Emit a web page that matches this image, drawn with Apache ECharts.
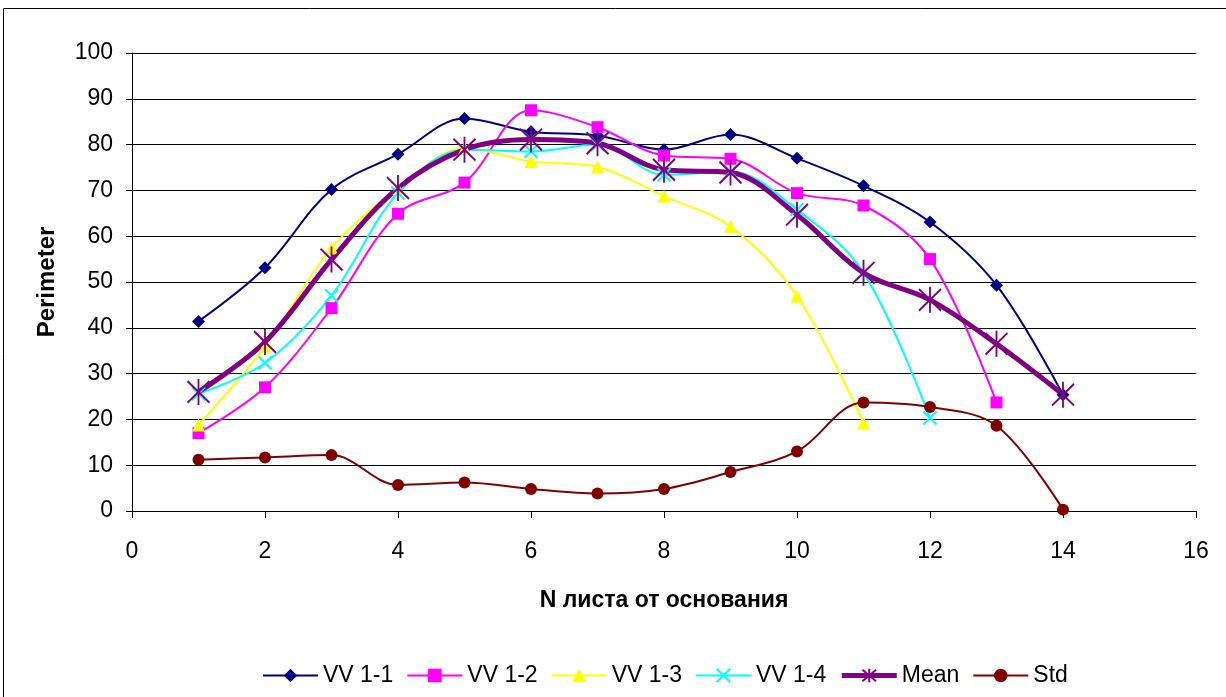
<!DOCTYPE html>
<html>
<head>
<meta charset="utf-8">
<script src="https://cdn.jsdelivr.net/npm/echarts@6/dist/echarts.min.js"></script>
<style>
  html, body { margin: 0; padding: 0; background: #fff; }
  #chart { width: 1226px; height: 697px; }
</style>
</head>
<body>
<div id="chart"></div>
<script>
// Leaf number from the base
const leafN = [1, 2, 3, 4, 5, 6, 7, 8, 9, 10, 11, 12, 13, 14];

// Perimeter per leaf for each plant (null where the plant has no such leaf)
const vv11 = [41.4, 53.1, 70.2, 77.9, 85.7, 82.8, 82.0, 78.9, 82.2, 77.0, 71.0, 63.1, 49.3, 25.4];
const vv12 = [17.0, 27.0, 44.3, 64.9, 71.7, 87.5, 83.8, 77.6, 76.9, 69.4, 66.7, 55.0, 23.7, null];
const vv13 = [18.8, 35.9, 57.4, 70.4, 79.2, 76.3, 75.1, 68.7, 62.1, 46.9, 19.2, null, null, null];
const vv14 = [25.6, 32.3, 47.0, 69.4, 78.9, 78.5, 80.0, 73.4, 74.1, 65.8, 52.0, 20.3, null, null];
const meanV = [26.0, 36.9, 54.9, 70.5, 78.9, 81.1, 80.3, 74.5, 73.9, 64.7, 52.0, 46.1, 36.5, 25.4];
const stdV = [11.2, 11.7, 12.2, 5.7, 6.2, 4.8, 3.8, 4.8, 8.5, 13.0, 23.7, 22.7, 18.6, 0.3];

const yTicks = { min: 0, max: 100, step: 10 };
const xTicks = { min: 0, max: 16, step: 2 };

function pairs(vals) {
  const out = [];
  vals.forEach((v, i) => { if (v !== null) out.push([leafN[i], v]); });
  return out;
}

const FONT = '"Liberation Sans", Arial, sans-serif';
const SMOOTH = 0.35;

const XMARK = 'path://M0,0L10,10M10,0L0,10';
const STAR = 'path://M0,2L20,22M20,2L0,22M10,0L10,24';

function lineSeries(name, vals, color, width, symbol, size, extra) {
  return Object.assign({
    name: name,
    type: 'line',
    data: pairs(vals),
    smooth: SMOOTH,
    symbol: symbol,
    symbolSize: size,
    showAllSymbol: true,
    lineStyle: { color: color, width: width },
    itemStyle: { color: color },
    emphasis: { disabled: true },
    animation: false
  }, extra || {});
}

const chart = echarts.init(document.getElementById('chart'), null, { renderer: 'canvas' });

chart.setOption({
  backgroundColor: '#ffffff',
  textStyle: { fontFamily: FONT },
  graphic: [{
    type: 'rect',
    shape: { x: 3.5, y: 8.5, width: 1240, height: 720 },
    style: { fill: 'none', stroke: '#000', lineWidth: 1 },
    silent: true
  }],
  grid: { left: 132, right: 30, top: 53, bottom: 186, containLabel: false },
  legend: {
    top: 659,
    left: 257,
    itemWidth: 55,
    itemHeight: 17,
    itemGap: 13,
    textStyle: { fontSize: 23, color: '#000', fontFamily: FONT },
    data: [
      { name: 'VV 1-1', lineStyle: { width: 2 } },
      { name: 'VV 1-2', lineStyle: { width: 2 } },
      { name: 'VV 1-3', lineStyle: { width: 2 } },
      { name: 'VV 1-4', lineStyle: { width: 2 } },
      { name: 'Mean', lineStyle: { width: 5 } },
      { name: 'Std', lineStyle: { width: 2 } }
    ]
  },
  xAxis: {
    type: 'value',
    min: xTicks.min, max: xTicks.max, interval: xTicks.step,
    name: 'N листа от основания',
    nameLocation: 'middle',
    nameGap: 78,
    nameTextStyle: { fontSize: 23, fontWeight: 'bold', color: '#000', fontFamily: FONT },
    axisLine: { lineStyle: { color: '#000', width: 1 } },
    axisTick: { show: true, inside: false, length: 7, lineStyle: { color: '#000' } },
    axisLabel: { fontSize: 23, color: '#000', margin: 29, fontFamily: FONT },
    splitLine: { show: false }
  },
  yAxis: {
    type: 'value',
    min: yTicks.min, max: yTicks.max, interval: yTicks.step,
    name: 'Perimeter',
    nameLocation: 'middle',
    nameGap: 73,
    nameTextStyle: { fontSize: 24, fontWeight: 'bold', color: '#000', fontFamily: FONT },
    axisLine: { show: true, lineStyle: { color: '#000', width: 1 } },
    axisTick: { show: true, inside: false, length: 6, lineStyle: { color: '#000' } },
    axisLabel: { fontSize: 23, color: '#000', margin: 19, fontFamily: FONT },
    splitLine: { show: true, lineStyle: { color: '#000', width: 1 } }
  },
  series: [
    lineSeries('VV 1-1', vv11, '#000080', 2, 'diamond', 13),
    lineSeries('VV 1-2', vv12, '#ff00ff', 2, 'rect', 12),
    lineSeries('VV 1-3', vv13, '#ffff00', 2, 'triangle', 13),
    lineSeries('VV 1-4', vv14, '#00ffff', 2, XMARK, 13, {
      itemStyle: { color: 'none', borderColor: '#00ffff', borderWidth: 2 }
    }),
    lineSeries('Mean', meanV, '#800080', 5, STAR, [22, 26], {
      itemStyle: { color: 'none', borderColor: '#800080', borderWidth: 2 }
    }),
    lineSeries('Std', stdV, '#800000', 2, 'circle', 12)
  ]
});
</script>
</body>
</html>
